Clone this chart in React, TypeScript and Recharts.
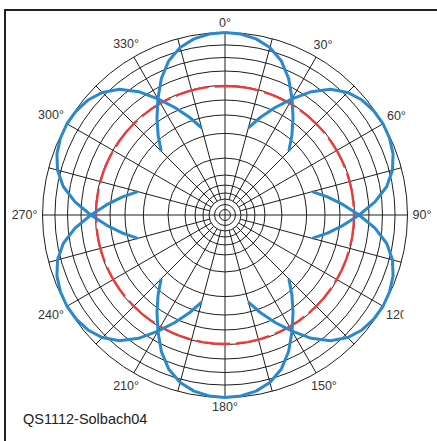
import React from 'react';
import { RadarChart, Radar, PolarGrid, PolarAngleAxis, PolarRadiusAxis } from 'recharts';

// ---- data ----
const ANGLES: number[] = Array.from({ length: 73 }, (_, i) => i * 5); // 0..360 sampling (deg)
const LOBE_CENTERS = [0, 60, 120, 180, 240, 300];
const LOBE_OFFSETS = [0, 5, 10, 15, 20, 25, 30, 35, 40, 45];
const LOBE_PROFILE = [100, 99.5, 98, 95, 90, 82.5, 73.5, 65, 57, 49.5]; // % of outer ring
const REFERENCE_LEVEL = 70.7;
const ANGLE_TICKS = [0, 30, 60, 90, 120, 150, 180, 210, 240, 270, 300, 330];
const CLIPPED_TICK = 120;
const GRID_LEVELS = [3, 5.75, 8.77, 12.05, 16.4, 21.9, 31.2, 44.7, 54.8, 63, 71, 78.9, 86.3, 93.2, 100];
const CARDINAL_SPOKES = [0, 90, 180, 270];
const OTHER_SPOKES = [15, 30, 45, 60, 75, 105, 120, 135, 150, 165, 195, 210, 225, 240, 255, 285, 300, 315, 330, 345];
const TITLE = 'QS1112-Solbach04';

const chartData = ANGLES.map((angle) => {
  const row: Record<string, number | null> = { angle, ref: REFERENCE_LEVEL };
  LOBE_CENTERS.forEach((c, i) => {
    const d = Math.abs(((angle - c + 540) % 360) - 180);
    const k = LOBE_OFFSETS.indexOf(d);
    row[`lobe${i}`] = k >= 0 ? LOBE_PROFILE[k] : null;
  });
  return row;
});

// ---- layout ----
const W = 437;
const H = 441;
const CX = 225;
const CY = 215;
const R = 182.5;
const FONT = '"Liberation Sans", Arial, Helvetica, sans-serif';
const BLUE = '#2a89cc';
const RED = '#ee3a3a';
const GRID = '#1e1e1e';

const OpenCurve = (props: any) => {
  const { points, stroke, strokeWidth } = props;
  let d = '';
  let pen = false;
  (points || []).forEach((p: any) => {
    const ok = p && p.value != null && Number.isFinite(p.x) && Number.isFinite(p.y);
    if (ok) {
      d += `${pen ? 'L' : 'M'}${p.x.toFixed(2)},${p.y.toFixed(2)}`;
      pen = true;
    } else {
      pen = false;
    }
  });
  return (
    <path d={d} fill="none" stroke={stroke} strokeWidth={strokeWidth} strokeLinecap="butt" strokeLinejoin="round" />
  );
};

const AngleTick = (props: any) => {
  const { x, y, payload } = props;
  const fs = 12.5;
  const label = `${payload.value}°`;
  const rad = (payload.coordinate * Math.PI) / 180;
  const ux = Math.cos(rad);
  const uy = -Math.sin(rad);
  const digits = String(payload.value).length;
  const halfW = ((digits * 0.556 + 0.4) * fs) / 2;
  const halfH = (0.716 * fs) / 2;
  const extra = halfH * Math.abs(uy) + halfW * Math.abs(ux);
  const clipped = payload.value === CLIPPED_TICK;
  return (
    <g>
      {clipped && (
        <defs>
          <clipPath id="tick-clip">
            <rect x={0} y={0} width={CX + R - 4} height={H} />
          </clipPath>
        </defs>
      )}
      <text
        x={x + ux * extra}
        y={y + uy * extra}
        textAnchor="middle"
        dominantBaseline="central"
        fontFamily={FONT}
        fontSize={fs}
        fill="#333"
        clipPath={clipped ? 'url(#tick-clip)' : undefined}
      >
        {label}
      </text>
    </g>
  );
};

export default function App() {
  const radii = GRID_LEVELS.map((v) => (v / 100) * R);
  return (
    <div style={{ position: 'relative', width: W, height: H, overflow: 'hidden', background: '#fff' }}>
      <style>{'html,body{margin:0;padding:0;background:#fff}'}</style>
      <div
        style={{
          position: 'absolute',
          left: 4,
          top: 9,
          width: 520,
          height: 520,
          borderLeft: '2px solid #222',
          borderTop: '2px solid #222',
        }}
      />
      {/* spokes that start away from the centre */}
      <div style={{ position: 'absolute', left: 0, top: 0 }}>
        <RadarChart width={W} height={H} cx={CX} cy={CY} outerRadius={R} innerRadius={16} data={chartData} margin={{ top: 0, right: 0, bottom: 0, left: 0 }}>
          <PolarGrid gridType="circle" polarAngles={OTHER_SPOKES} polarRadius={[]} stroke={GRID} strokeWidth={1} />
        </RadarChart>
      </div>
      <div style={{ position: 'absolute', left: 0, top: 0 }}>
        <RadarChart width={W} height={H} cx={CX} cy={CY} outerRadius={R} innerRadius={0} data={chartData} margin={{ top: 0, right: 0, bottom: 0, left: 0 }}>
          <PolarGrid gridType="circle" polarAngles={CARDINAL_SPOKES} polarRadius={radii} stroke={GRID} strokeWidth={1} />
          <PolarAngleAxis
            dataKey="angle"
            type="number"
            domain={[0, 360]}
            ticks={ANGLE_TICKS}
            tick={AngleTick}
            tickSize={5}
            axisLine={false}
            tickLine={false}
          />
          <PolarRadiusAxis type="number" domain={[0, 100]} tick={false} axisLine={false} />
          <Radar
            dataKey="ref"
            stroke={RED}
            strokeWidth={2.4}
            strokeDasharray="34 6"
            fill="none"
            fillOpacity={0}
            dot={false}
            isAnimationActive={false}
          />
          {LOBE_CENTERS.map((c, i) => (
            <Radar
              key={c}
              dataKey={`lobe${i}`}
              stroke={BLUE}
              strokeWidth={3}
              fill="none"
              dot={false}
              shape={OpenCurve}
              isAnimationActive={false}
            />
          ))}
        </RadarChart>
      </div>
      <svg width={W} height={H} style={{ position: 'absolute', left: 0, top: 0, pointerEvents: 'none' }}>
        <text x={23} y={424} fontFamily={FONT} fontSize={14.5} fill="#222">
          {TITLE}
        </text>
      </svg>
    </div>
  );
}
